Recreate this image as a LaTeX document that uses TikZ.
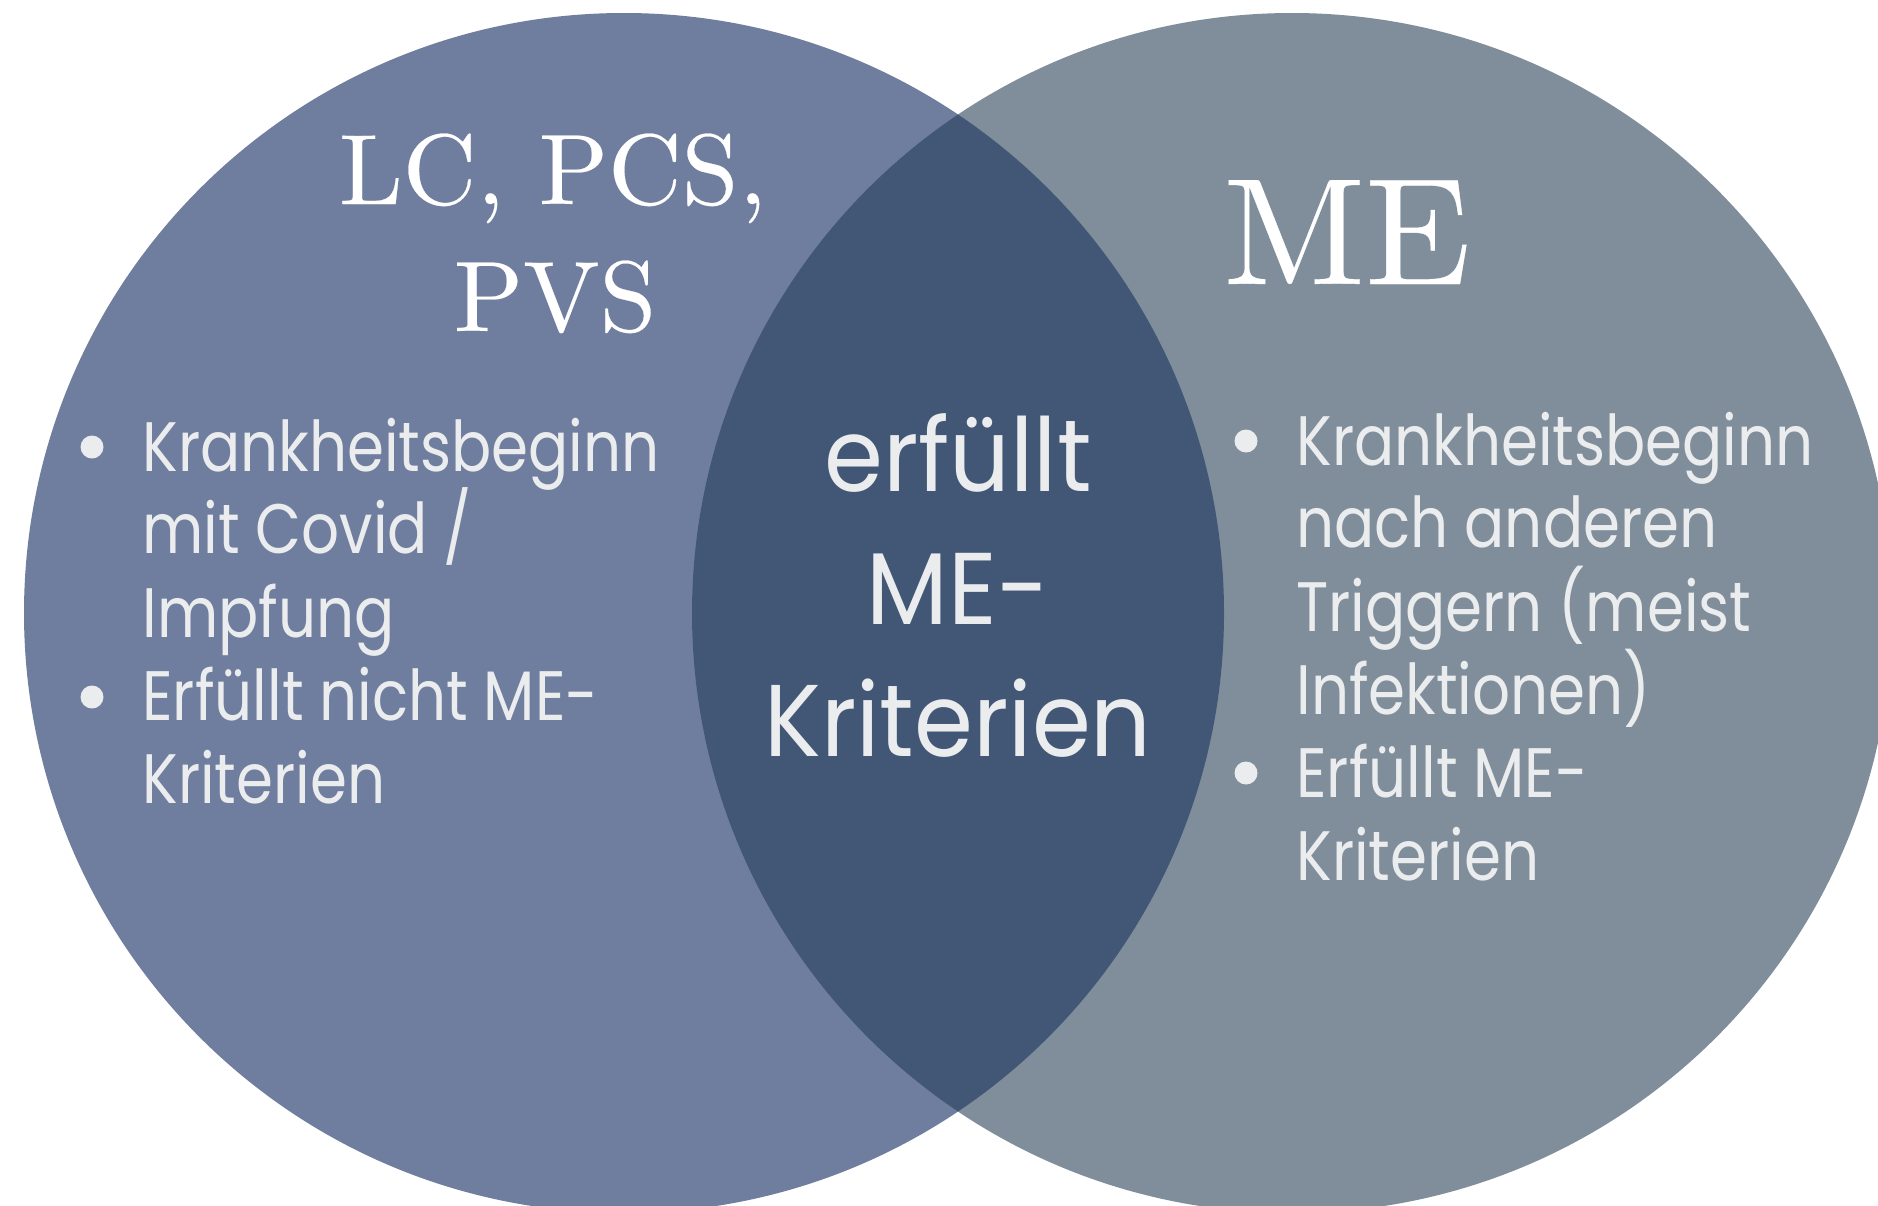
\documentclass[tikz,border=0pt]{standalone}
\usepackage{fontspec}
\newfontfamily\bodyfont[FakeStretch=0.85]{Poppins}
\newfontfamily\centerfont[FakeStretch=0.93]{Poppins}
\newfontfamily\titlefont[Extension=.otf,FakeStretch=1.02,FakeBold=0.25]{lmroman10-regular}
\definecolor{leftc}{RGB}{111,126,158}
\definecolor{rightc}{RGB}{127,142,154}
\definecolor{midc}{RGB}{66,87,117}
\definecolor{txt}{RGB}{234,236,238}
\begin{document}
\begin{tikzpicture}[x=0.5pt,y=-0.5pt,
  title/.style={text=white,font=\titlefont\fontsize{50}{60}\selectfont,anchor=base,inner sep=0},
  body/.style={text=txt,font=\bodyfont\fontsize{35}{42}\selectfont,anchor=base west,inner sep=0},
  centertxt/.style={text=txt,font=\centerfont\fontsize{51}{60}\selectfont,anchor=base,inner sep=0},
  dot/.style={circle,fill=txt,minimum size=11.5pt,inner sep=0}]
\useasboundingbox (0,0) rectangle (1878,1205);
\begin{scope}
  \clip (0,0) rectangle (1878,1205);
  \fill[white] (0,0) rectangle (1878,1205);
  \fill[leftc] (624,613) circle[radius=600];
  \fill[rightc] (1292,613) circle[radius=600];
  \begin{scope}
    \clip (624,613) circle[radius=600];
    \fill[midc] (1292,613) circle[radius=600];
  \end{scope}
\end{scope}
% titles
\node[title] (t1) at (553,204) {LC, PCS,};
\node[title] (t2) at (555,331) {PVS};
\node[title,font=\titlefont\fontsize{76}{90}\selectfont] (me) at (1347,284) {ME};
% left list
\node[dot] (ld1) at (92,447) {};
\node[dot] (ld2) at (92,697) {};
\node[body] (l1) at (142,471) {Krankheitsbeginn};
\node[body] (l2) at (142,553) {mit Covid /};
\node[body] (l3) at (142,637) {Impfung};
\node[body] (l4) at (142,720) {Erfüllt nicht ME-};
\node[body] (l5) at (142,803) {Kriterien};
% right list
\node[dot] (rd1) at (1246,441) {};
\node[dot] (rd2) at (1246,773) {};
\node[body] (r1) at (1296,465) {Krankheitsbeginn};
\node[body] (r2) at (1296,547) {nach anderen};
\node[body] (r3) at (1296,631) {Triggern (meist};
\node[body] (r4) at (1296,714) {Infektionen)};
\node[body] (r5) at (1296,797) {Erfüllt ME-};
\node[body] (r6) at (1296,880) {Kriterien};
% center
\node[centertxt] (c1) at (958,491) {erfüllt};
\node[centertxt] (c2) at (958,624) {ME-};
\node[centertxt] (c3) at (958,756) {Kriterien};
\end{tikzpicture}
\end{document}
